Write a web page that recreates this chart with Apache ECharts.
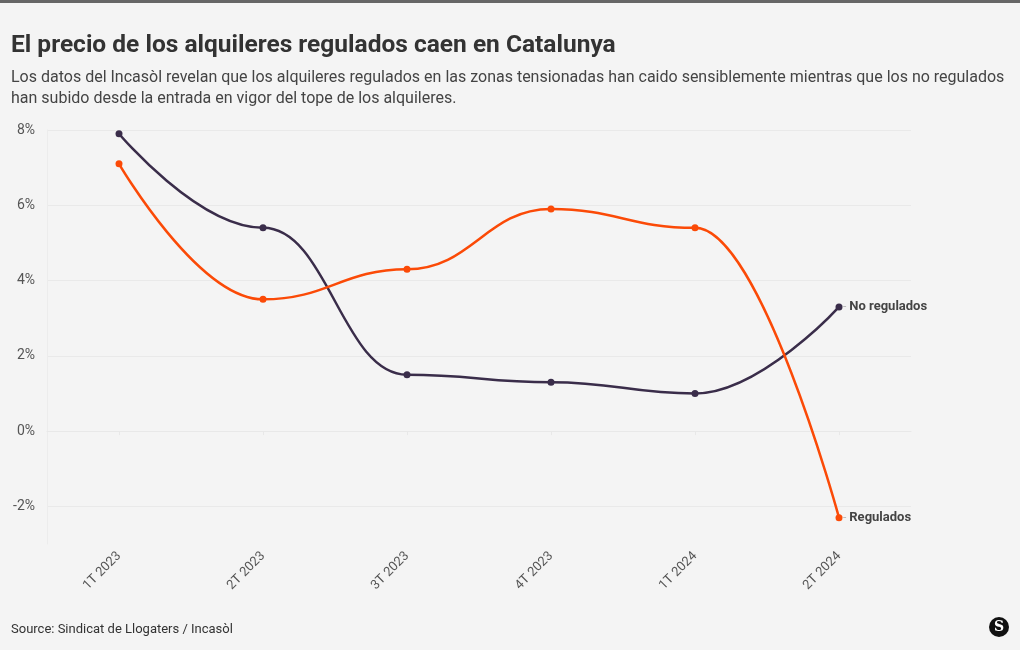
<!DOCTYPE html>
<html><head><meta charset="utf-8">
<script src="https://cdn.jsdelivr.net/npm/echarts@6/dist/echarts.min.js"></script>
<style>html,body{margin:0;padding:0;background:#f4f4f4;}#c{width:1020px;height:650px;}</style>
</head><body><div id="c"></div>
<script>
const categories = ['1T 2023','2T 2023','3T 2023','4T 2023','1T 2024','2T 2024'];
const noRegulados = [7.9, 5.4, 1.5, 1.3, 1.0, 3.3];
const regulados = [7.1, 3.5, 4.3, 5.9, 5.4, -2.3];
const yTicks = [-2, 0, 2, 4, 6, 8];

const chart = echarts.init(document.getElementById('c'));
const FONT = 'Roboto, "Noto Sans", sans-serif';
function endLbl(name){
  return {
    show: true, distance: 4,
    formatter: '{d|-} {n|' + name + '}',
    rich: {
      d: {color: '#bbb', fontSize: 12, fontFamily: FONT},
      n: {color: '#444', fontSize: 13, fontWeight: 'bold', fontFamily: FONT}
    }
  };
}
chart.setOption({
  backgroundColor: '#f4f4f4',
  animation: false,
  textStyle: {fontFamily: FONT},
  title: [
    {text: 'El precio de los alquileres regulados caen en Catalunya', left: 6, top: 28,
     textStyle: {fontSize: 24.5, fontWeight: 'bold', color: '#333', fontFamily: FONT}},
    {text: 'Los datos del Incasòl revelan que los alquileres regulados en las zonas tensionadas han caido sensiblemente mientras que los no regulados\nhan subido desde la entrada en vigor del tope de los alquileres.',
     left: 6, top: 62, textStyle: {fontSize: 16, fontWeight: 'normal', color: '#444', lineHeight: 21, fontFamily: FONT}},
    {text: 'Source: Sindicat de Llogaters / Incasòl', left: 6, top: 618,
     textStyle: {fontSize: 13, fontWeight: 'normal', color: '#333', fontFamily: FONT}}
  ],
  graphic: [
    {type: 'rect', left: 0, top: 0, shape: {width: 1020, height: 3}, style: {fill: '#666'}},
    {type: 'circle', shape: {cx: 999, cy: 627, r: 10}, style: {fill: '#111'}},
    {type: 'text', x: 999, y: 627, style: {text: 'S', fill: '#fff', font: 'bold 14px "DejaVu Serif", serif', align: 'center', verticalAlign: 'middle'}}
  ],
  grid: {left: 47, right: 109, top: 130, bottom: 106, containLabel: false},
  xAxis: {
    type: 'category', data: categories, boundaryGap: true,
    axisLine: {show: true, lineStyle: {color: '#e8e8e8'}},
    axisTick: {show: true, alignWithLabel: true, length: 4, lineStyle: {color: '#e8e8e8'}},
    axisLabel: {rotate: 45, color: '#555', fontSize: 13, margin: 10, fontFamily: FONT},
    splitLine: {show: false}
  },
  yAxis: {
    type: 'value', min: -3, max: 8, interval: 1,
    axisLine: {show: true, lineStyle: {color: '#ececec'}},
    axisTick: {show: false},
    axisLabel: {color: '#555', fontSize: 14, margin: 12, fontFamily: FONT,
      formatter: v => yTicks.includes(v) ? v + '%' : ''},
    splitLine: {show: true, lineStyle: {color: ['#f4f4f4','#e9e9e9','#f4f4f4','#e9e9e9','#f4f4f4','#e9e9e9','#f4f4f4','#e9e9e9','#f4f4f4','#e9e9e9','#f4f4f4','#e9e9e9']}}
  },
  series: [
    {name: 'No regulados', type: 'line', data: noRegulados, smooth: 0.45, smoothMonotone: 'x',
     symbol: 'circle', symbolSize: 7, color: '#3a2d4a', lineStyle: {width: 2.5, color: '#3a2d4a'},
     endLabel: endLbl('No regulados')},
    {name: 'Regulados', type: 'line', data: regulados, smooth: 0.45, smoothMonotone: 'x',
     symbol: 'circle', symbolSize: 7, color: '#fb4a07', lineStyle: {width: 2.5, color: '#fb4a07'},
     endLabel: endLbl('Regulados')}
  ]
});
</script></body></html>
